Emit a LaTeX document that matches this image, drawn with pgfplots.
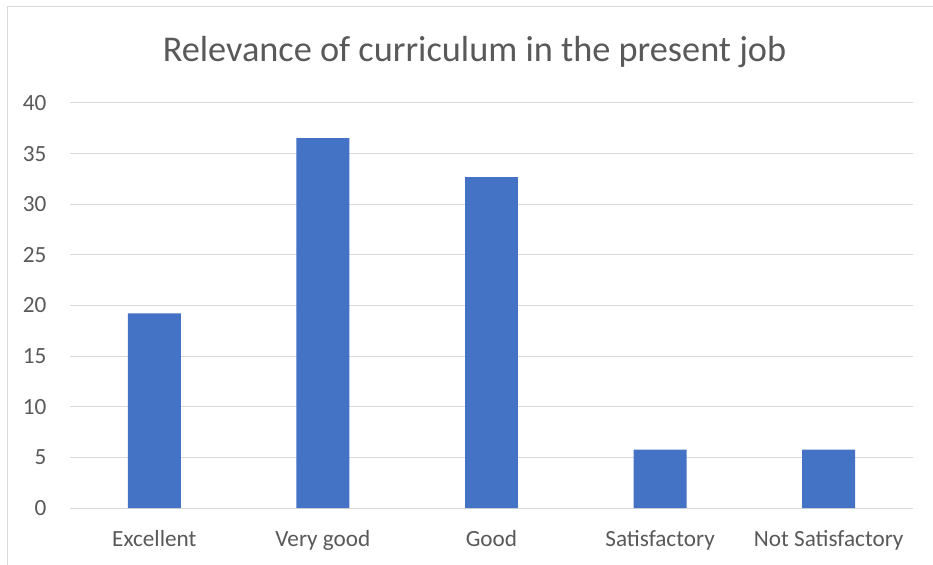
\documentclass[border=0pt]{standalone}
\usepackage{pgfplots}
\pgfplotsset{compat=1.18}
\usepackage{fontspec}
\setmainfont{Carlito}
\definecolor{barblue}{HTML}{4472C4}
\definecolor{gridgray}{HTML}{D9D9D9}
\definecolor{txtgray}{HTML}{595959}
\begin{document}
\begin{tikzpicture}
\useasboundingbox (0,0) rectangle (933bp,565bp);
\draw[gridgray, line width=1bp] (7bp,0) -- (7bp,558bp) -- (933bp,558bp);
\begin{axis}[
  at={(70bp,57bp)}, anchor=south west,
  scale only axis, width=843bp, height=405bp,
  xmin=-0.5, xmax=4.5, ymin=0, ymax=40,
  ytick={0,5,...,40},
  xtick=data,
  xticklabels={Excellent,Very good,Good,Satisfactory,Not Satisfactory},
  /pgf/number format/assume math mode=true,
  ymajorgrids, major grid style={gridgray, line width=1bp},
  axis line style={draw=none},
  major tick length=0pt,
  tick label style={font=\fontsize{23.2bp}{27bp}\selectfont, text=txtgray},
  xticklabel style={anchor=base, yshift=-38bp},
  yticklabel style={anchor=east, xshift=-20bp},
  title={Relevance of curriculum in the present job},
  title style={font=\fontsize{36.3bp}{42bp}\selectfont, text=txtgray, at={(0.5,1)}, anchor=base, yshift=36bp, xshift=-17bp},
  clip=false,
]
\addplot[ybar, bar width=0.314, fill=barblue, draw=none] coordinates {
  (0,19.23) (1,36.54) (2,32.69) (3,5.77) (4,5.77)
};
\end{axis}
\end{tikzpicture}
\end{document}
